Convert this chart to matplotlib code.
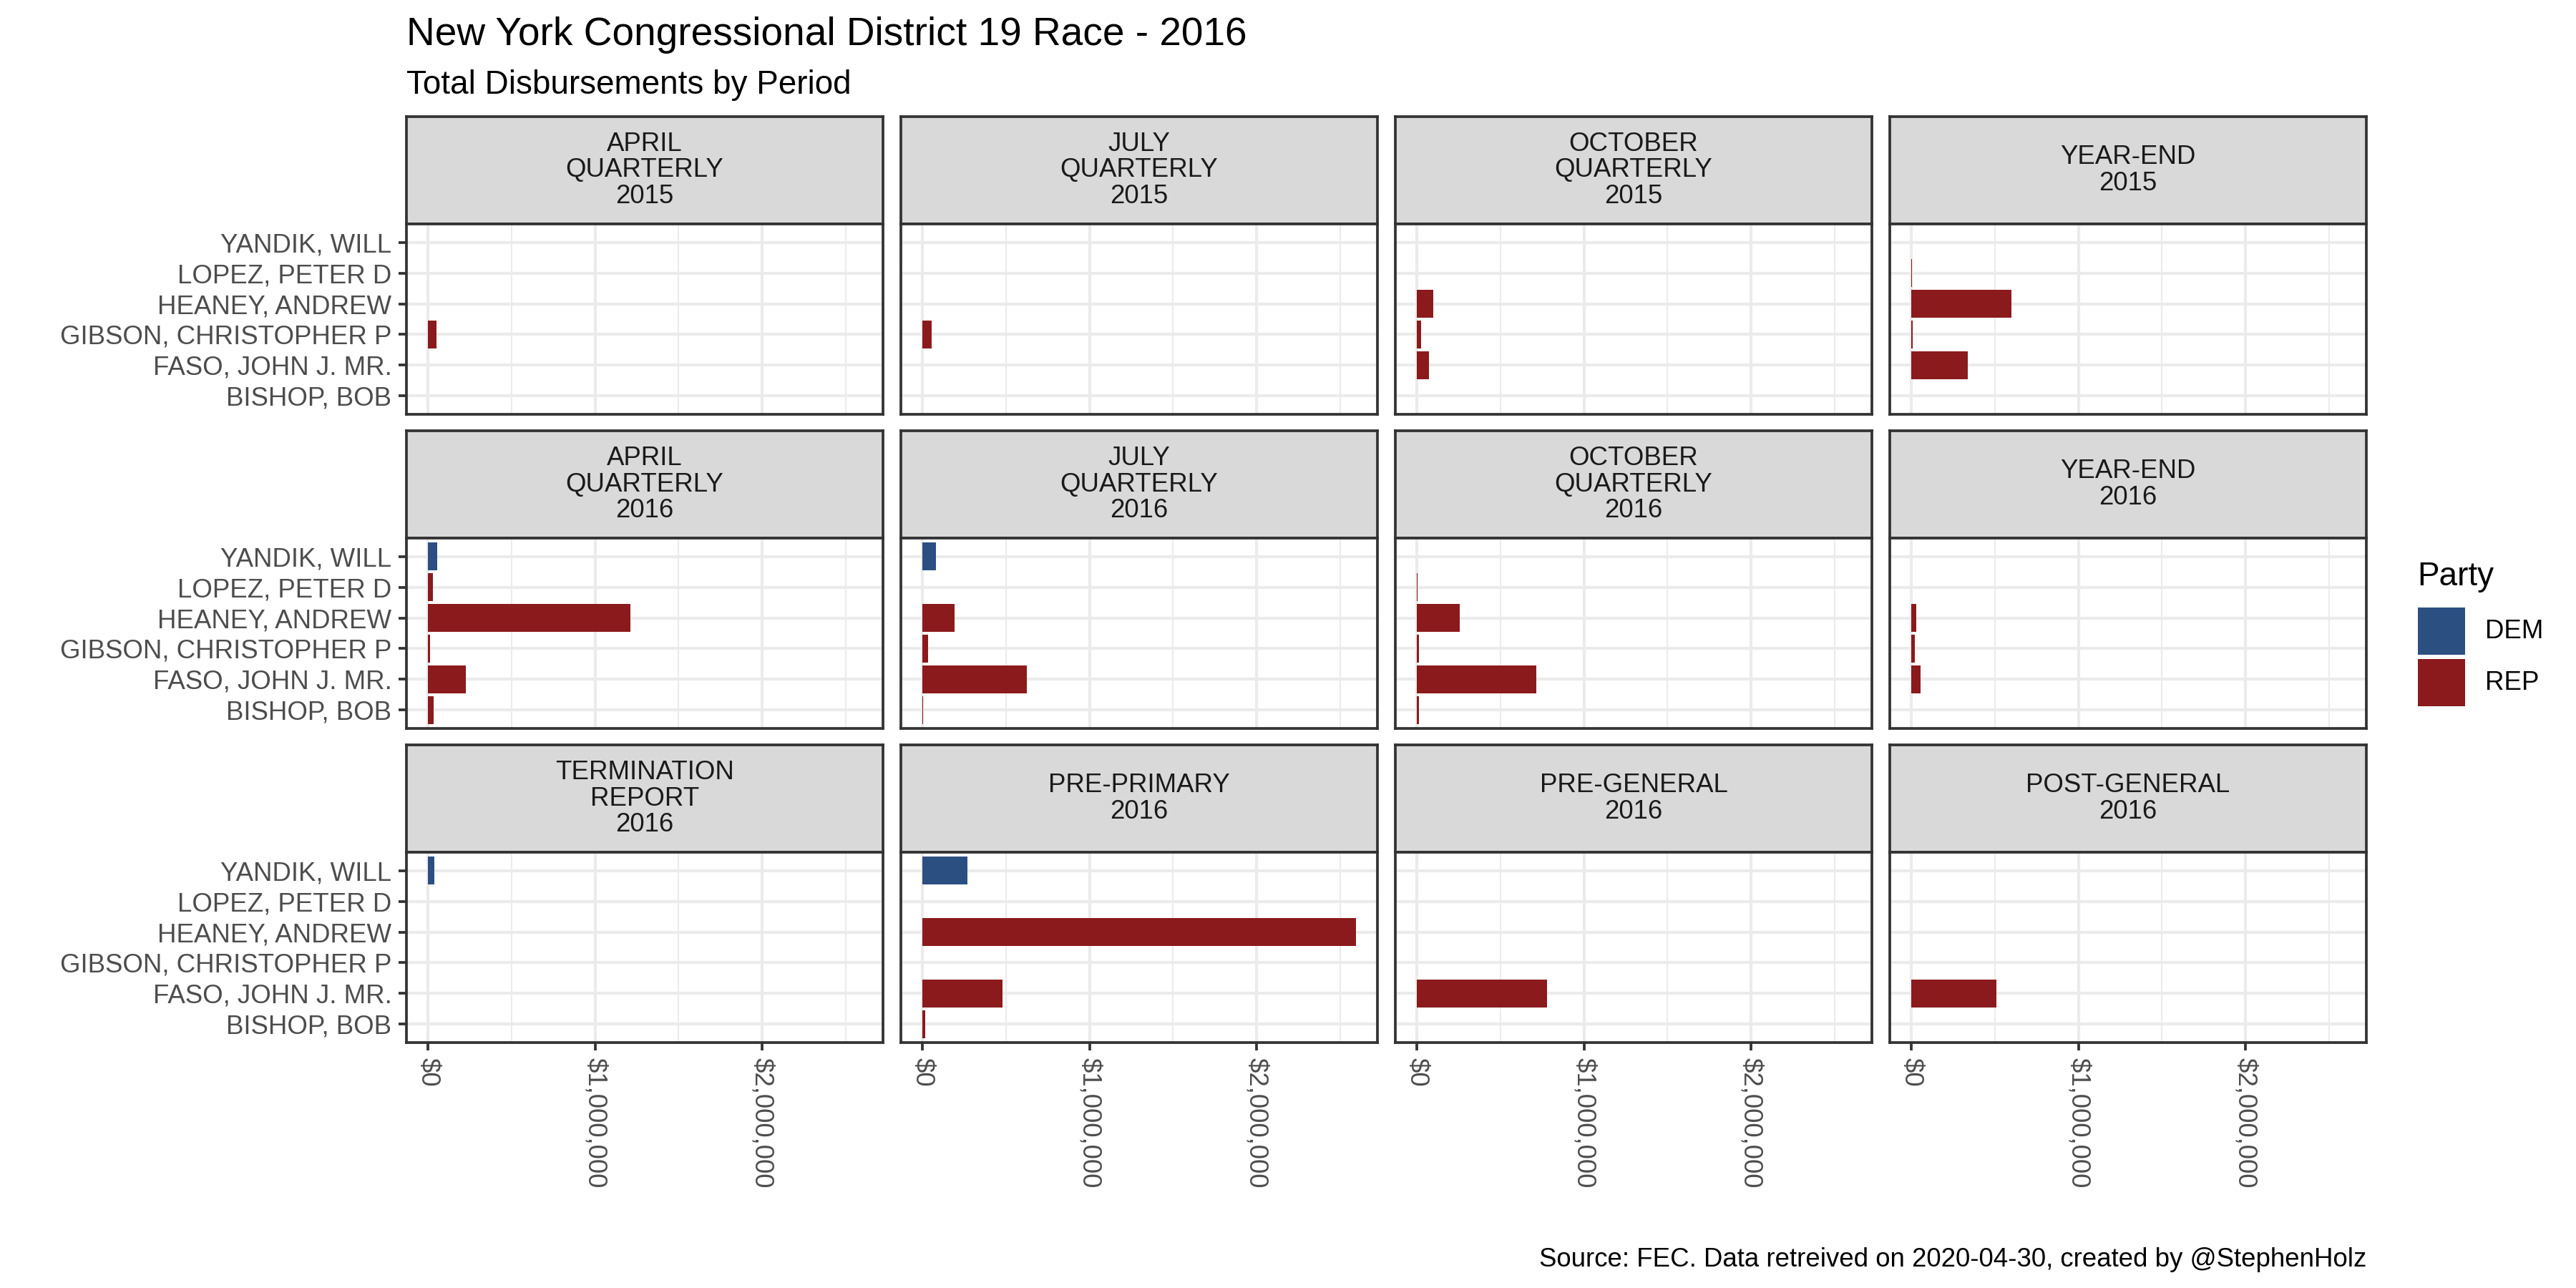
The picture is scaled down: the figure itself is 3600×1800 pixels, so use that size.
import numpy as np
import matplotlib
matplotlib.use('Agg')
import matplotlib.pyplot as plt
from matplotlib.patches import Rectangle

plt.rcParams['font.family'] = ['Liberation Sans', 'DejaVu Sans']

# candidates from bottom to top of each panel
candidates = ['BISHOP, BOB', 'FASO, JOHN J. MR.', 'GIBSON, CHRISTOPHER P',
              'HEANEY, ANDREW', 'LOPEZ, PETER D', 'YANDIK, WILL']
candidate_party = ['REP', 'REP', 'REP', 'REP', 'REP', 'DEM']

parties = ['DEM', 'REP']
party_colors = {'DEM': '#2C4F82', 'REP': '#8B1A1C'}

periods = ['APRIL\nQUARTERLY\n2015', 'JULY\nQUARTERLY\n2015', 'OCTOBER\nQUARTERLY\n2015', 'YEAR-END\n2015',
           'APRIL\nQUARTERLY\n2016', 'JULY\nQUARTERLY\n2016', 'OCTOBER\nQUARTERLY\n2016', 'YEAR-END\n2016',
           'TERMINATION\nREPORT\n2016', 'PRE-PRIMARY\n2016', 'PRE-GENERAL\n2016', 'POST-GENERAL\n2016']

nan = np.nan
# total disbursements in $, same candidate order as above
disbursements = [
    [nan, nan, 50000, nan, nan, nan],
    [nan, nan, 53000, nan, nan, nan],
    [nan, 70000, 24000, 98000, nan, nan],
    [nan, 336000, 8000, 600000, 3000, nan],
    [32000, 225000, 12000, 1210000, 28000, 55000],
    [4000, 626000, 31000, 193000, nan, 79000],
    [10000, 714000, 12000, 255000, 3000, nan],
    [nan, 55000, 20000, 28000, nan, nan],
    [nan, nan, nan, nan, nan, 38000],
    [15000, 481000, nan, 2595000, nan, 267000],
    [nan, 779000, nan, nan, nan, nan],
    [nan, 511000, nan, nan, nan, nan],
]

x_ticks = [0, 1000000, 2000000]
x_tick_labels = ['$0', '$1,000,000', '$2,000,000']
x_minor = [500000, 1500000, 2500000]

title = 'New York Congressional District 19 Race - 2016'
subtitle = 'Total Disbursements by Period'
caption = 'Source: FEC. Data retreived on 2020-04-30, created by @StephenHolz'

# layout in pixels of the 3600x1800 output
W, H = 3600, 1800
col_left = [568, 1259, 1950, 2641]
panel_w = 666
strip_top = [163, 602, 1041]
strip_h = 150
panel_h = 266

border = '#333333'
grid_col = '#EBEBEB'
lw = 0.9

fig = plt.figure(figsize=(12, 6), dpi=300)

xmax = np.nanmax(np.array(disbursements))
ypos = np.arange(len(candidates))
bar_colors = [party_colors[p] for p in candidate_party]

for i, period in enumerate(periods):
    r, c = divmod(i, 4)
    l = col_left[c]
    st = strip_top[r]

    # strip
    sax = fig.add_axes([l / W, 1 - (st + strip_h) / H, panel_w / W, strip_h / H])
    sax.set_facecolor('#D9D9D9')
    sax.set_xticks([])
    sax.set_yticks([])
    for sp in sax.spines.values():
        sp.set_color(border)
        sp.set_linewidth(lw)
    sax.text(0.5, 0.5, period, ha='center', va='center', fontsize=8.8,
             color='#1A1A1A', linespacing=1.05, transform=sax.transAxes)

    # panel
    ax = fig.add_axes([l / W, 1 - (st + strip_h + panel_h) / H, panel_w / W, panel_h / H])
    vals = np.array(disbursements[i])
    ax.barh(ypos, np.nan_to_num(vals), height=0.9, color=bar_colors, linewidth=0)
    ax.set_xlim(-0.05 * xmax, 1.05 * xmax)
    ax.set_ylim(-0.6, len(candidates) - 0.4)
    ax.set_xticks(x_ticks)
    ax.set_xticks(x_minor, minor=True)
    ax.set_yticks(ypos)
    ax.set_axisbelow(True)
    ax.grid(which='major', color=grid_col, linewidth=1.0)
    ax.grid(which='minor', axis='x', color=grid_col, linewidth=0.5)
    for sp in ax.spines.values():
        sp.set_color(border)
        sp.set_linewidth(lw)
    ax.tick_params(which='minor', length=0)
    ax.tick_params(which='major', length=2.75, width=lw, color=border,
                   labelsize=8.8, labelcolor='#4D4D4D', pad=2.2)

    if c == 0:
        ax.set_yticklabels(candidates)
    else:
        ax.tick_params(axis='y', left=False, labelleft=False)

    if r == 2:
        ax.set_xticklabels(x_tick_labels, rotation=270, ha='center', va='top')
    else:
        ax.tick_params(axis='x', bottom=False, labelbottom=False)

# titles
fig.text(568 / W, 1 - 63 / H, title, fontsize=13.2, ha='left', va='baseline', color='black')
fig.text(568 / W, 1 - 131 / H, subtitle, fontsize=11, ha='left', va='baseline', color='black')
fig.text(3307 / W, 1 - 1770 / H, caption, fontsize=8.8, ha='right', va='baseline', color='black')

# legend
fig.text(3378 / W, 1 - 818 / H, 'Party', fontsize=11, ha='left', va='baseline')
key_top = 849
for k, party in enumerate(parties):
    y0 = key_top + k * 72
    fig.add_artist(Rectangle((3379 / W, 1 - (y0 + 66) / H), 66 / W, 66 / H,
                             transform=fig.transFigure, facecolor=party_colors[party],
                             edgecolor='none'))
    fig.text(3473 / W, 1 - (y0 + 33) / H, party, fontsize=8.8, ha='left', va='center')

fig.savefig('out.png', dpi=300, facecolor='white')
